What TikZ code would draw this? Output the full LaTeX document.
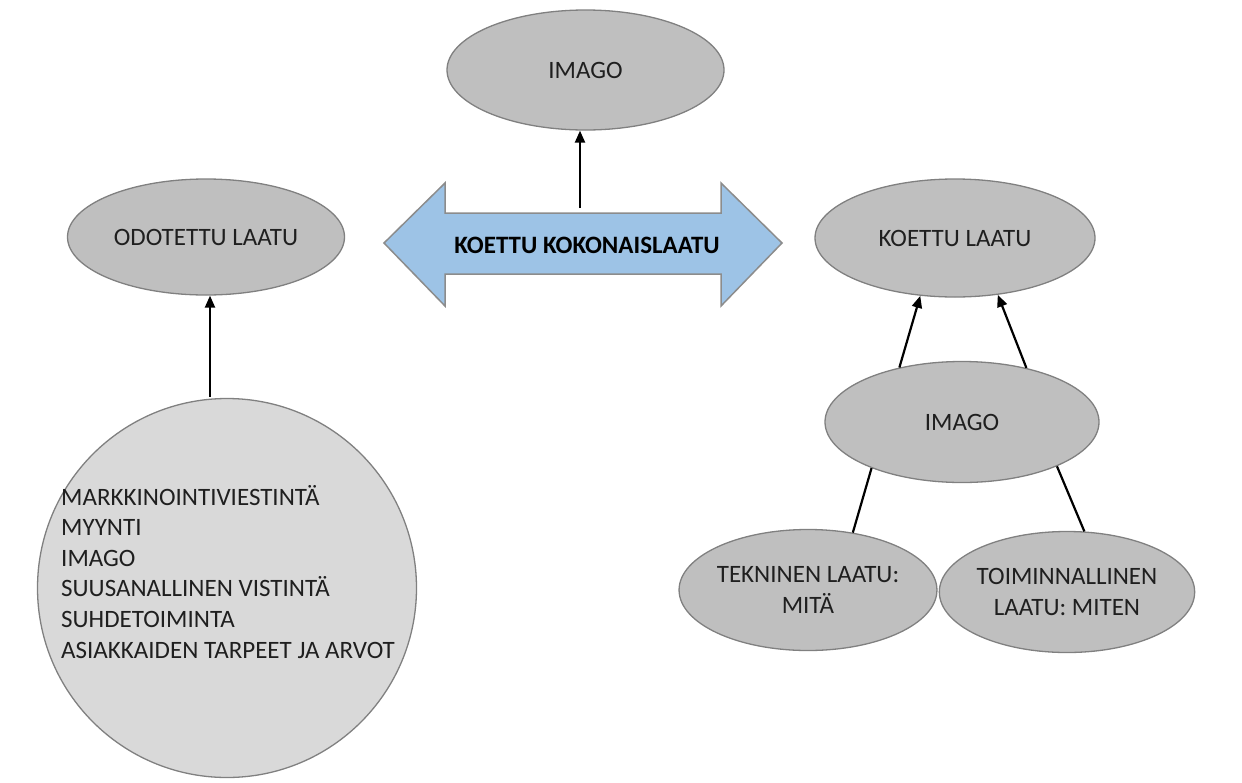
\documentclass[tikz,border=0pt]{standalone}
\usepackage{fontspec}
\setmainfont{Carlito}
\usetikzlibrary{shapes.geometric,arrows.meta}
\begin{document}
\begin{tikzpicture}[x=1pt,y=-1pt,
  every node/.style={font=\fontsize{25}{30.6}\selectfont, text=black!88},
  oval/.style={ellipse, draw=black!50, line width=1.3pt, fill=black!25, inner sep=0pt},
  link/.style={line width=2.2pt, black},
  arrowlink/.style={link, -{Triangle[length=12pt,width=10pt]}}]
\useasboundingbox (0,0) rectangle (1242,782);

% ellipses
\node[oval, minimum width=277pt, minimum height=120pt] (imagoTop) at (585.5,70) {IMAGO};
\node[oval, minimum width=277pt, minimum height=116pt] (odotettu) at (206,237) {ODOTETTU LAATU};
\node[oval, minimum width=280pt, minimum height=118pt] (koettu) at (955,238) {KOETTU LAATU};
\node[oval, minimum width=274pt, minimum height=121pt] (imagoMid) at (962,422) {IMAGO};
\node[oval, minimum width=253pt, minimum height=121pt, align=center] (teknis) at (808,590) {TEKNINEN LAATU:\\MITÄ};
\node[oval, minimum width=250pt, minimum height=121pt, align=center] (toimin) at (1067,592) {TOIMINNALLINEN\\LAATU: MITEN};

% circle of factors, list anchored at the baseline of its last line
\node[circle, draw=black!50, line width=1.3pt, fill=black!15, minimum size=379pt, inner sep=0pt] (tekijat) at (227,588) {};
\node[anchor=base west, align=left, inner sep=0pt] (lista) at (61,658) {MARKKINOINTIVIESTINTÄ\\MYYNTI\\IMAGO\\SUUSANALLINEN VISTINTÄ\\SUHDETOIMINTA\\ASIAKKAIDEN TARPEET JA ARVOT};

% double arrow
\draw[draw=black!45, line width=1.5pt, fill={rgb,255:red,157;green,195;blue,230}, line join=miter]
  (384,243) -- (445,183) -- (445,213) -- (721,213) -- (721,183) -- (782,243)
  -- (721,306) -- (721,274) -- (445,274) -- (445,306) -- cycle;
\node[font=\fontsize{25}{30}\selectfont\bfseries, text=black] (kokonais) at (587,245) {KOETTU KOKONAISLAATU};

% connectors
\coordinate (topStart) at (580,208);
\draw[arrowlink] (topStart) -- (topStart |- imagoTop.south);
\coordinate (leftStart) at (210,397);
\draw[arrowlink] (leftStart) -- (leftStart |- odotettu.south);
\draw[arrowlink] (imagoMid.139) -- (koettu.239);
\draw[arrowlink] (imagoMid.40) -- (koettu.307);
\draw[link] (teknis.52) -- (imagoMid.207);
\draw[link] (toimin.74) -- (imagoMid.335);
\end{tikzpicture}
\end{document}
